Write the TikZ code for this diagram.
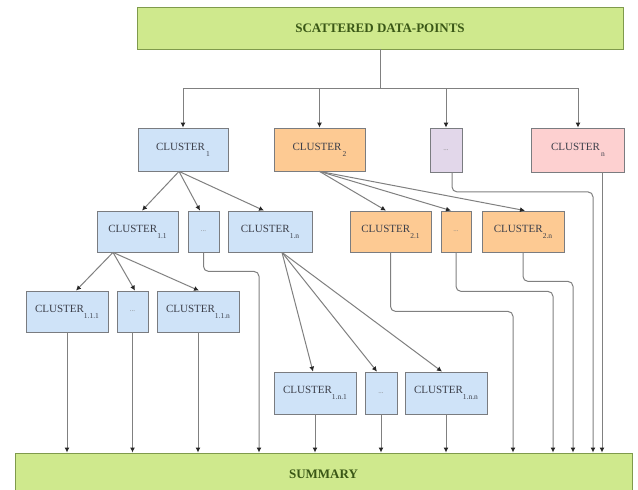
\documentclass[tikz,border=0pt]{standalone}
\usepackage{fontspec}
\setmainfont{Liberation Serif}
\usetikzlibrary{arrows.meta,calc}
\definecolor{cblue}{HTML}{CFE3F8}
\definecolor{corange}{HTML}{FDCA93}
\definecolor{cpurple}{HTML}{E2D7EA}
\definecolor{cpink}{HTML}{FDD0D0}
\definecolor{cgreen}{HTML}{CFE98D}
\definecolor{bordc}{HTML}{7A7C80}
\definecolor{gbord}{HTML}{7F9A4C}
\definecolor{gtext}{HTML}{3A5716}
\definecolor{txtc}{HTML}{3C3F4A}
\definecolor{linec}{HTML}{808080}
\definecolor{tipc}{HTML}{262626}
\newcommand\cl[1]{CLUSTER\raisebox{-6pt}{\fontsize{7.5}{8}\selectfont#1}}
\newcommand\dd{{\color{gray}\fontsize{7}{8}\selectfont...}}
\tikzset{
  box/.style={draw=bordc, line width=0.8pt, inner sep=0pt, minimum height=41pt,
    font=\fontsize{11}{12}\selectfont, text=txtc},
  big/.style={box, minimum width=82pt},
  small/.style={box, minimum width=31pt},
  bl/.style={fill=cblue},
  og/.style={fill=corange},
  pu/.style={fill=cpurple},
  pk/.style={fill=cpink},
  gbox/.style={draw=gbord, line width=0.9pt, fill=cgreen, inner sep=0pt,
    minimum height=42pt, text=gtext, font=\bfseries\fontsize{13}{15}\selectfont},
  con/.style={draw=linec, line width=1pt, -{Latex[length=5pt,width=5pt,color=tipc]}},
  elb/.style={con, rounded corners=5pt},
}
\begin{document}
\begin{tikzpicture}[x=1pt,y=-1pt]
\fill[white] (0,0) rectangle (638,490);
\useasboundingbox (0,0) rectangle (638,490);

% boxes
\node[gbox, minimum width=486pt] (top) at (380,28) {SCATTERED DATA-POINTS};
\node[gbox, minimum width=617pt] (summary) at (323.5,474) {SUMMARY};

\node[big,bl,minimum width=90pt,minimum height=43pt] (c1) at (183,149.5) {\cl{\,1}};
\node[big,og,minimum width=91pt,minimum height=43pt] (c2) at (319.5,149.5) {\cl{\,2}};
\node[small,pu,minimum width=32pt,minimum height=44pt] (cd) at (446,150) {\dd};
\node[big,pk,minimum width=93pt,minimum height=44pt] (cn) at (578,150) {\cl{\,n}};

\node[big,bl,minimum width=81pt] (c11) at (137.5,231.5) {\cl{1.1}};
\node[small,bl] (c1d) at (203.5,231.5) {\dd};
\node[big,bl,minimum width=84pt] (c1n) at (270,231.5) {\cl{1.n}};
\node[big,og,minimum width=81pt] (c21) at (390.5,231.5) {\cl{2.1}};
\node[small,og,minimum width=30pt] (c2d) at (456,231.5) {\dd};
\node[big,og] (c2n) at (523,231.5) {\cl{2.n}};

\node[big] [bl] (c111) at (67,311.5) {\cl{1.1.1}};
\node[small,bl] (c11d) at (132.5,311.5) {\dd};
\node[big,bl] (c11n) at (198,311.5) {\cl{1.1.n}};

\node[big,bl,minimum height=42pt] (c1n1) at (315,393) {\cl{1.n.1}};
\node[small,bl,minimum width=32pt,minimum height=42pt] (c1nd) at (381,393) {\dd};
\node[big,bl,minimum height=42pt] (c1nn) at (446,393) {\cl{1.n.n}};

% top distribution
\coordinate (bus) at (380,88);
\draw[con] (top.south) -- (bus) -| (c1.north);
\draw[con] (bus) -| (c2.north);
\draw[con] (bus) -| (cd.north);
\draw[con] (bus) -| (cn.north);

% fans
\draw[con] ([xshift=-4pt]c1.south) -- ([xshift=4.5pt]c11.north);
\draw[con] ([xshift=-4pt]c1.south) -- ([xshift=-3.5pt]c1d.north);
\draw[con] ([xshift=-4pt]c1.south) -- ([xshift=-6pt]c1n.north);

\draw[con] ([xshift=-24.5pt]c11.south) -- ([xshift=9pt]c111.north);
\draw[con] ([xshift=-24.5pt]c11.south) -- ([xshift=2.5pt]c11d.north);
\draw[con] ([xshift=-24.5pt]c11.south) -- ([xshift=1pt]c11n.north);

\draw[con] ([xshift=12pt]c1n.south) -- ([xshift=-2pt]c1n1.north);
\draw[con] ([xshift=12pt]c1n.south) -- ([xshift=-4pt]c1nd.north);
\draw[con] ([xshift=12pt]c1n.south) -- ([xshift=-4pt]c1nn.north);

\draw[con] (c2.south) -- ([xshift=-4.5pt]c21.north);
\draw[con] (c2.south) -- ([xshift=-5pt]c2d.north);
\draw[con] (c2.south) -- ([xshift=2pt]c2n.north);

% straight drops to summary
\foreach \n in {c111,c11d,c11n,c1n1,c1nd,c1nn}
  \draw[con] (\n.south) -- (\n.south |- summary.north);

% elbow drops to summary
\coordinate (j1) at (259,0);
\coordinate (j2) at (513,0);
\coordinate (j3) at (553,0);
\coordinate (j4) at (573,0);
\coordinate (j5) at (593,0);
\coordinate (cdx) at ([xshift=6pt]cd.south);
\coordinate (cnx) at ([xshift=24pt]cn.south);
\draw[elb] (c1d.south) -- ++(0,19) -| (summary.north -| j1);
\draw[elb] (c21.south) -- ++(0,59) -| (summary.north -| j2);
\draw[elb] (c2d.south) -- ++(0,39) -| (summary.north -| j3);
\draw[elb] (c2n.south) -- ++(0,29) -| (summary.north -| j4);
\draw[elb] (cdx) -- ++(0,19.5) -| (summary.north -| j5);
\draw[con] (cnx) -- (cnx |- summary.north);
\end{tikzpicture}
\end{document}
